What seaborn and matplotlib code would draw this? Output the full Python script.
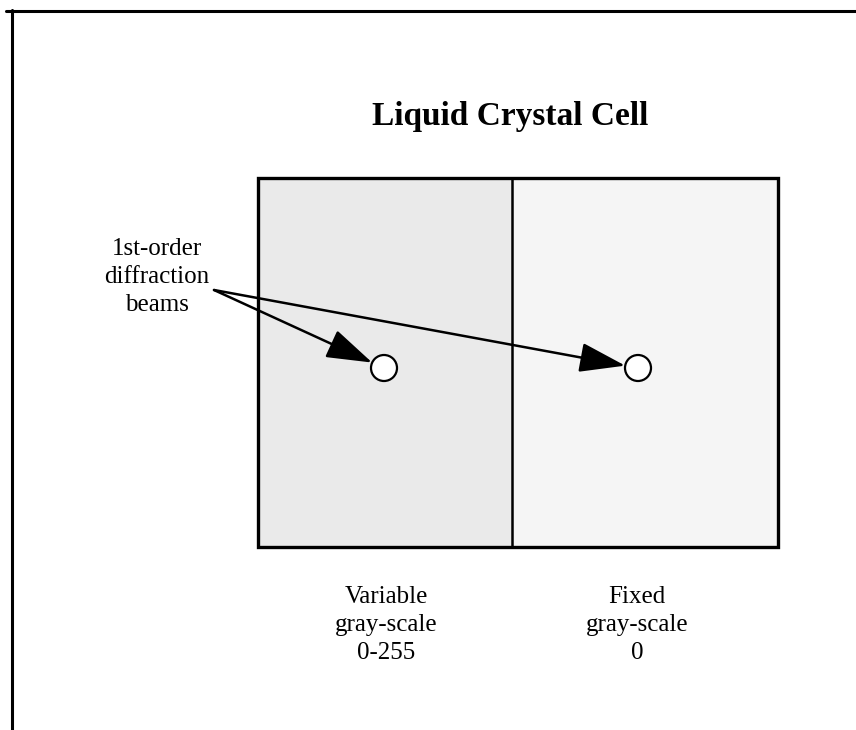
import numpy as np
import matplotlib
matplotlib.use("Agg")
import matplotlib.pyplot as plt
from matplotlib.lines import Line2D
from matplotlib.patches import Circle, Rectangle
import seaborn as sns

# ---- content ----
title = "Liquid Crystal Cell"
cell_names = ["Variable", "Fixed"]
cell_tones = [234, 245]          # mean display gray level of each half (0-255)
cell_labels = ["Variable\ngray-scale\n0-255", "Fixed\ngray-scale\n0"]
beam_label = "1st-order\ndiffraction\nbeams"

# ---- layout (pixels) ----
W, H = 856, 730
rect_x0, rect_x1, rect_y0, rect_y1 = 258, 778, 178, 547
divider_x = 512
spot_xy = [(384, 368), (638, 368)]
spot_r = 13
arrow_start = (214, 290)
label_x = [386, 637]

sns.set_theme(style="white")
plt.rcParams['font.family'] = ['Liberation Serif', 'DejaVu Serif']

fig = plt.figure(figsize=(W / 100, H / 100), dpi=100)
fig.patch.set_facecolor("white")

def fx(x):
    return x / W

def fy(y):
    return 1 - y / H

# two halves of the cell as seaborn heatmaps
edges = [(rect_x0, divider_x), (divider_x, rect_x1)]
for (xa, xb), tone in zip(edges, cell_tones):
    ax = fig.add_axes([fx(xa), fy(rect_y1), (xb - xa) / W, (rect_y1 - rect_y0) / H])
    sns.heatmap(np.array([[tone]]), ax=ax, cmap="gray", vmin=0, vmax=255,
                cbar=False, xticklabels=False, yticklabels=False)
    ax.set_axis_off()

# overlay in pixel coordinates
ov = fig.add_axes([0, 0, 1, 1])
ov.set_xlim(0, W)
ov.set_ylim(H, 0)
ov.set_axis_off()
ov.patch.set_alpha(0)

# outer frame (top and left edges)
ov.add_line(Line2D([6, W], [11, 11], color="black", lw=2.2))
ov.add_line(Line2D([12, 12], [10, H], color="black", lw=2.2))

# cell border and divider
ov.add_patch(Rectangle((rect_x0, rect_y0), rect_x1 - rect_x0, rect_y1 - rect_y0,
                       fill=False, ec="black", lw=2.4, zorder=3))
ov.add_line(Line2D([divider_x, divider_x], [rect_y0, rect_y1], color="black", lw=1.8, zorder=3))

# title
ov.text(510, 117, title, ha="center", va="center",
        fontsize=24, fontweight="bold", color="black")

# beam label
ov.text(157, 277, beam_label, ha="center", va="center", fontsize=18,
        linespacing=1.37, color="black")

# arrows and spots
for (cx, cy) in spot_xy:
    dx, dy = cx - arrow_start[0], cy - arrow_start[1]
    d = np.hypot(dx, dy)
    tip = (cx - spot_r * dx / d, cy - spot_r * dy / d)
    ov.annotate("", xy=tip, xytext=arrow_start,
                arrowprops=dict(arrowstyle="-|>,head_length=1.3,head_width=0.42",
                                mutation_scale=22, lw=1.8, color="black",
                                shrinkA=0, shrinkB=0), zorder=4)
    ov.add_patch(Circle((cx, cy), spot_r, fc="white", ec="black", lw=1.6, zorder=5))

# labels under the cell
for lx, lab in zip(label_x, cell_labels):
    ov.text(lx, 625, lab, ha="center", va="center", fontsize=18,
            linespacing=1.37, color="black")

fig.savefig("out.png", dpi=100)
